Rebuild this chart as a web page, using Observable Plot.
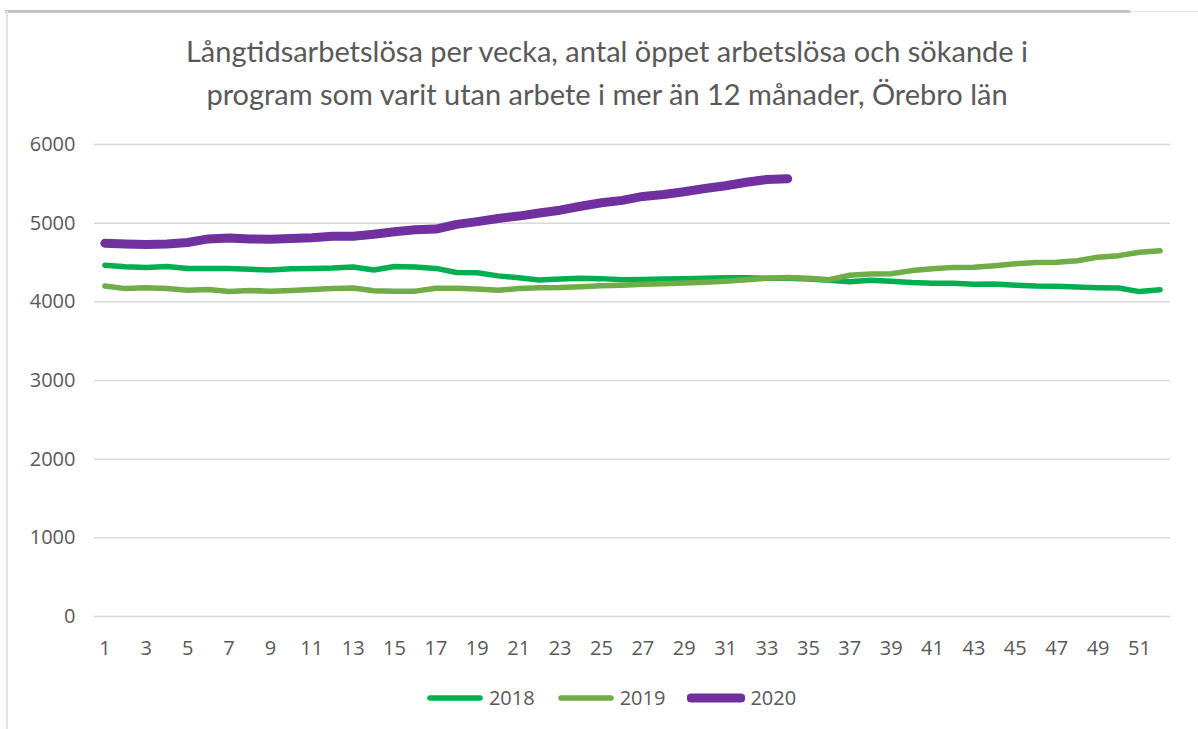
<!DOCTYPE html>
<html><head><meta charset="utf-8">
<script src="https://cdn.jsdelivr.net/npm/d3@7"></script>
<script src="https://cdn.jsdelivr.net/npm/@observablehq/plot@0.6"></script>
<style>
body{margin:0;background:#fff;width:1198px;height:729px;overflow:hidden;position:relative;font-family:Lato,"Open Sans",sans-serif;}
#frameTop{position:absolute;left:5px;top:10px;width:1125px;height:3px;background:#c4c4c4}
#frameTop2{position:absolute;left:1130px;top:11px;width:68px;height:1px;background:#e6e6e6}
#frameLeft{position:absolute;left:6px;top:11px;width:2px;height:718px;background:#e3e3e3}
#title{position:absolute;top:29px;left:0;width:1214px;text-align:center;color:#595959;font-size:29px;line-height:43px}
#chart{position:absolute;top:120px;left:0}
#legend{position:absolute;top:684px;left:0;width:1222px;display:flex;justify-content:center;align-items:center;color:#595959;font-size:20px;font-family:"Open Sans",sans-serif}
.item{display:flex;align-items:center;margin:0 11px}
.item svg{margin-right:5px}
</style></head>
<body>
<div id="frameTop"></div><div id="frameTop2"></div><div id="frameLeft"></div>
<div id="title">Långtidsarbetslösa per vecka, antal öppet arbetslösa och sökande i<br>program som varit utan arbete i mer än 12 månader, Örebro län</div>
<div id="chart"></div>
<div id="legend"></div>
<script>
const weeks = [1,2,3,4,5,6,7,8,9,10,11,12,13,14,15,16,17,18,19,20,21,22,23,24,25,26,27,28,29,30,31,32,33,34,35,36,37,38,39,40,41,42,43,44,45,46,47,48,49,50,51,52];
const xTicks = [1,3,5,7,9,11,13,15,17,19,21,23,25,27,29,31,33,35,37,39,41,43,45,47,49,51];
const yTicks = [0,1000,2000,3000,4000,5000,6000];
const years = ["2018","2019","2020"];
const s2018 = [4465,4447,4435,4450,4425,4425,4425,4413,4405,4420,4425,4430,4443,4405,4450,4443,4425,4372,4370,4330,4305,4278,4290,4300,4295,4280,4285,4290,4295,4300,4305,4305,4300,4300,4290,4275,4255,4275,4262,4245,4235,4235,4222,4228,4211,4200,4198,4190,4180,4175,4130,4155];
const s2019 = [4200,4168,4180,4170,4148,4158,4130,4145,4133,4145,4158,4168,4175,4140,4136,4136,4172,4172,4162,4148,4168,4178,4182,4192,4205,4212,4222,4230,4238,4248,4262,4280,4300,4308,4300,4280,4338,4354,4358,4397,4420,4438,4440,4460,4485,4500,4502,4523,4568,4587,4630,4648];
const s2020 = [4745,4735,4730,4735,4755,4800,4810,4800,4795,4805,4815,4835,4835,4860,4890,4915,4925,4985,5020,5060,5090,5130,5165,5215,5260,5290,5340,5365,5400,5440,5475,5520,5555,5565];
const colors = ["#00B050","#70AD47","#7030A0"];
const widths = [5.5,5.5,9];
const seriesList = [s2018, s2019, s2020];

const rowsFor = (s) => s.map((v,i)=>({week:weeks[i], value:v}));

const chart = Plot.plot({
  width:1198, height:560,
  marginTop:24, marginBottom:64, marginLeft:94, marginRight:28,
  style:{fontFamily:"'Open Sans',sans-serif", color:"#595959", background:"transparent"},
  x:{type:"point", domain:weeks, padding:0.5},
  y:{domain:[0,6000]},
  marks:[
    Plot.gridY(yTicks,{stroke:"#d9d9d9", strokeOpacity:1, strokeWidth:1.5}),
    Plot.axisY(yTicks,{tickSize:0, tickPadding:19, label:null, fontSize:20, fill:"#595959", tickFormat:d=>String(d)}),
    Plot.axisX(xTicks,{tickSize:0, tickPadding:24, label:null, fontSize:20, fill:"#595959", tickFormat:d=>String(d)}),
    ...seriesList.map((s,k)=>Plot.line(rowsFor(s),{x:"week", y:"value", stroke:colors[k], strokeWidth:widths[k], strokeLinecap:"round", strokeLinejoin:"round"}))
  ]
});
document.getElementById("chart").appendChild(chart);

const legend = document.getElementById("legend");
years.forEach((y,k)=>{
  const it = document.createElement("div");
  it.className="item";
  it.innerHTML = `<svg width="58" height="12"><line x1="4" y1="6" x2="54" y2="6" stroke="${colors[k]}" stroke-width="${widths[k]}" stroke-linecap="round"/></svg><span>${y}</span>`;
  legend.appendChild(it);
});
</script>
</body></html>
